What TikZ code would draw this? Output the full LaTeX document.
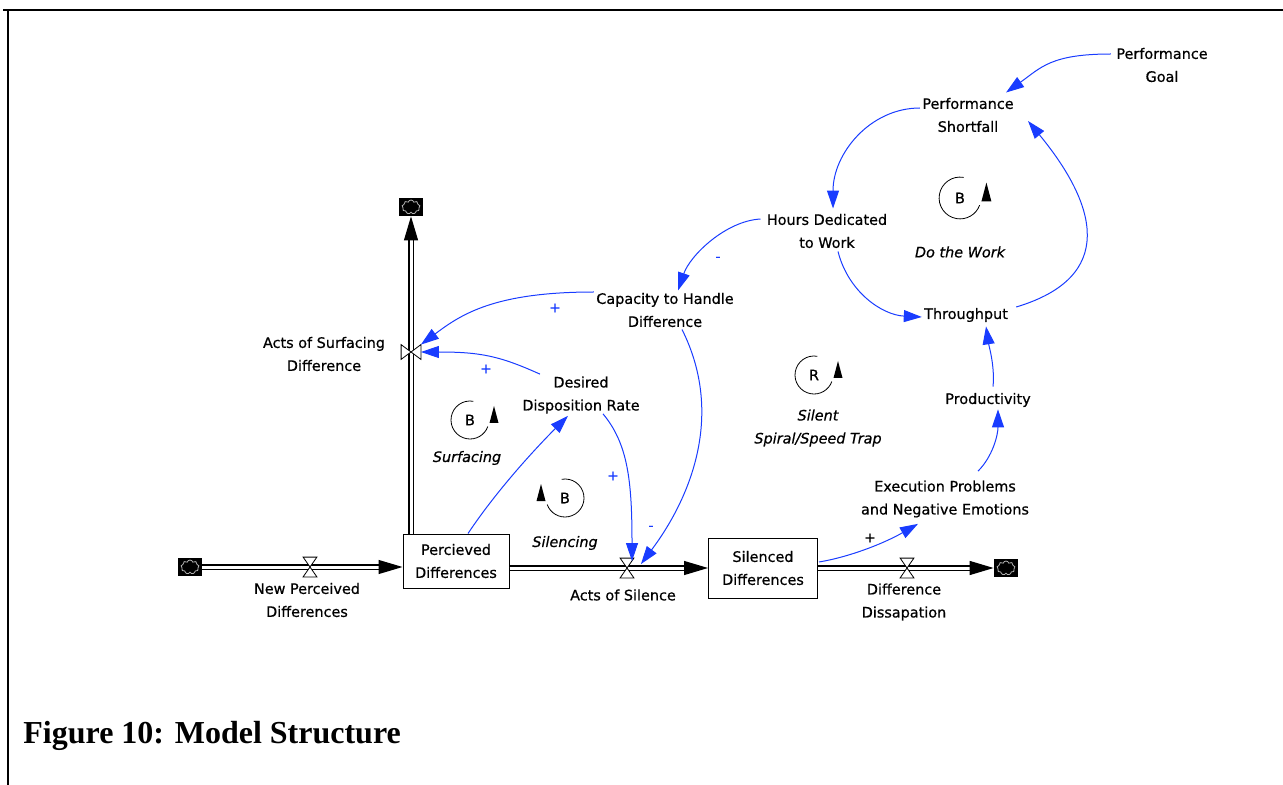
\documentclass[tikz,border=0pt]{standalone}
\usepackage{fontspec}
\newfontfamily\varfont[FakeBold=0.6]{DejaVu Sans}
\newfontfamily\capfont{Liberation Serif}
\usetikzlibrary{arrows.meta,shapes.symbols}
\definecolor{linkblue}{RGB}{25,60,255}
\tikzset{
 var/.style={font=\varfont\fontsize{7.2}{11.5}\selectfont,align=center,inner sep=1pt},
 loopname/.style={font=\varfont\itshape\fontsize{7.2}{11.5}\selectfont,align=center,inner sep=1pt},
 stock/.style={draw,line width=.5pt,fill=white,minimum width=53pt,minimum height=27pt,inner sep=0,font=\varfont\fontsize{7.2}{11.5}\selectfont,align=center},
 pipe/.style={double=white,double distance=1.5pt,line width=.6pt,-{Triangle[length=12pt,width=7pt]}},
 link/.style={draw=linkblue,line width=.5pt,-{Triangle[length=9pt,width=6pt]}},
 pol/.style={text=linkblue,font=\varfont\fontsize{7}{8}\selectfont,inner sep=0},
 valve/.style={minimum width=6.5pt,minimum height=9.5pt,inner sep=0},
 valvev/.style={minimum width=9.5pt,minimum height=7pt,inner sep=0},
 valveline/.style={draw,fill=white,line width=.4pt},
 cloudbox/.style={fill=black,minimum width=12pt,minimum height=9pt,inner sep=0,
  path picture={\node[cloud,cloud puffs=9,aspect=1.3,draw=gray!60,fill=black,line width=.4pt,inner sep=0,minimum width=9pt,minimum height=7pt] at (path picture bounding box.center) {};}},
 loopring/.style={line width=.4pt},
 loopccw/.pic={
  \draw[loopring] (80:9.5pt) arc[start angle=80,end angle=340,radius=9.5pt];
  \fill (19.5,3) -- (28.5,3) -- (24,-14) -- cycle;
 },
 loopcw/.pic={
  \draw[loopring] (100:9.5pt) arc[start angle=100,end angle=-160,radius=9.5pt];
  \fill (-19.5,3) -- (-28.5,3) -- (-24,-14) -- cycle;
 }
}
\begin{document}
\begin{tikzpicture}[x=.5pt,y=-.5pt]
\useasboundingbox (0,0) rectangle (1283,785);
\draw[line width=1pt] (3,10) -- (1283,10);
\draw[line width=1pt] (8,10) -- (8,785);

\node[stock] (perceived) at (456,561) {Percieved\\Differences};
\node[stock,minimum width=54.5pt,minimum height=30pt] (silenced) at (763,568) {Silenced\\Differences};
\node[cloudbox] (srcnew) at (190,567) {};
\node[cloudbox] (sinksurf) at (411,207) {};
\node[cloudbox] (sinkdiss) at (1006,568) {};
\node[valve] (vnew) at (310,567) {};
\node[valve] (vsilence) at (627,568) {};
\node[valve] (vdiss) at (907,568) {};
\node[valvev] (vsurf) at (411,352) {};

\draw[pipe] (srcnew.east) -- (srcnew.east -| perceived.west);
\draw[pipe] (perceived.east |- silenced.west) -- (silenced.west);
\draw[pipe] (silenced.east) -- (sinkdiss.west);
\draw[pipe] (perceived.north -| sinksurf.south) -- (sinksurf.south);
\foreach \v in {vnew,vsilence,vdiss}
 \draw[valveline] (\v.north west) -- (\v.north east) -- (\v.south west) -- (\v.south east) -- cycle;
\draw[valveline] (vsurf.north west) -- (vsurf.south west) -- (vsurf.north east) -- (vsurf.south east) -- cycle;

\node[var] (lnew) at (307,600) {New Perceived\\Differences};
\node[var] (lsilence) at (623,595) {Acts of Silence};
\node[var] (ldiss) at (904,602) {Difference\\Dissapation};
\node[var] (lsurf) at (324,354) {Acts of Surfacing\\Difference};

\node[var] (goal) at (1162,65) {Performance\\Goal};
\node[var] (shortfall) at (968,115) {Performance\\Shortfall};
\node[var] (hours) at (827,231) {Hours Dedicated\\to Work};
\node[var] (capacity) at (665,310) {Capacity to Handle\\Difference};
\node[var] (desired) at (581,395) {Desired\\Disposition Rate};
\node[var] (throughput) at (966,315) {Throughput};
\node[var] (productivity) at (988,400) {Productivity};
\node[var] (execution) at (945,499) {Execution Problems\\and Negative Emotions};

\node[var] (lpwork) at (960,198) {B};
\pic[scale=1.1] at (lpwork.center) {loopccw};
\node[loopname] (nwork) at (960,252) {Do the Work};
\node[var] (lpspiral) at (814,375) {R};
\pic at (lpspiral.center) {loopccw};
\node[loopname] (nspiral) at (818,428) {Silent\\Spiral/Speed Trap};
\node[var] (lpsurf) at (470,420) {B};
\pic at (lpsurf.center) {loopccw};
\node[loopname] (nsurf) at (467,458) {Surfacing};
\node[var] (lpsilence) at (565,498) {B};
\pic at (lpsilence.center) {loopcw};
\node[loopname] (nsilence) at (565,543) {Silencing};

\draw[link] ([shift={(-3,-11)}]goal.west) .. controls +(-60,0) and +(35,-25) .. ([shift={(-10,-3)}]shortfall.north east);
\draw[link] ([shift={(0,-7)}]shortfall.west) .. controls +(-50,0) and +(0,-55) .. ([shift={(6,-3)}]hours.north);
\draw[link] ([shift={(6,-8)}]throughput.east) .. controls +(100,-30) and +(70,85) .. ([shift={(12,6)}]shortfall.east);
\draw[link] ([shift={(11,1)}]hours.south) .. controls +(10,40) and +(-40,-2) .. ([shift={(0,2)}]throughput.west);
\draw[link] ([shift={(-4,-12)}]hours.west) .. controls +(-35,2) and +(12,-35) .. ([shift={(13,0)}]capacity.north);
\draw[link] ([shift={(0,-18)}]capacity.west) .. controls +(-100,0) and +(40,-30) .. (vsurf.north east);
\draw[link] ([shift={(20,0)}]desired.north west) .. controls +(-40,-18) and +(60,0) .. (vsurf.east);
\draw[link] ([shift={(12,0)}]perceived.north) .. controls +(30,-45) and +(-30,30) .. ([shift={(-13,0)}]desired.south);
\draw[link] ([shift={(22,-2)}]desired.south) .. controls +(25,30) and +(0,-80) .. ([shift={(5,3)}]vsilence.north);
\draw[link] ([shift={(17,0)}]capacity.south) .. controls +(45,90) and +(45,-60) .. ([shift={(7,6)}]vsilence.north east);
\draw[link] ([shift={(1,-6)}]silenced.east) .. controls +(30,-5) and +(-35,20) .. ([shift={(-27,4)}]execution.south);
\draw[link] ([shift={(33,-7)}]execution.north) .. controls +(15,-15) and +(0,25) .. ([shift={(10,0)}]productivity.south);
\draw[link] ([shift={(5,-4)}]productivity.north) .. controls +(2,-20) and +(3,20) .. ([shift={(20,2)}]throughput.south);

\node[pol] (p5) at (718,259) {-};
\node[pol] (p6) at (555,308) {+};
\node[pol] (p7) at (486,369) {+};
\node[pol] (p9) at (613,476) {+};
\node[pol] (p10) at (651,528) {-};
\node[pol,text=black] (p11) at (870,538) {+};

\node[anchor=base west,font=\capfont\bfseries\fontsize{16}{19}\selectfont,inner sep=0] (caption) at (23,743) {Figure 10: Model Structure};
\end{tikzpicture}
\end{document}
